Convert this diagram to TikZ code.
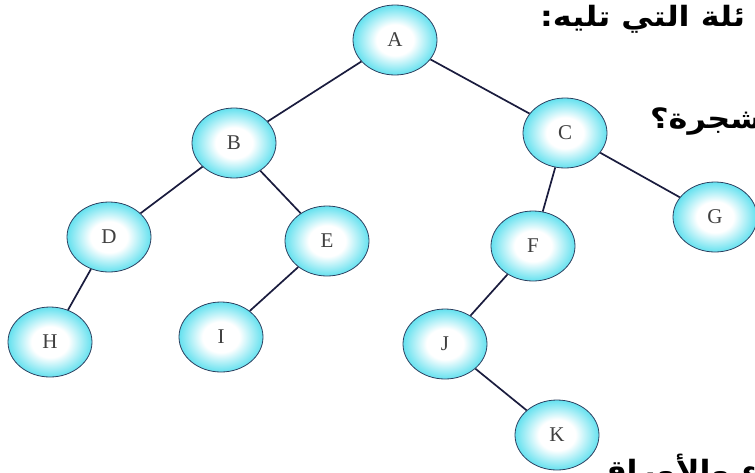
\documentclass[tikz,border=0pt]{standalone}
\usepackage{fontspec}
\setmainfont{Liberation Serif}
\newfontfamily\arabicfont[Script=Arabic, FakeStretch=1.14]{DejaVu Sans}
\TeXXeTstate=1
\usetikzlibrary{positioning,shapes.geometric}

\definecolor{ringcyan}{RGB}{34,212,232}
\definecolor{edgenavy}{RGB}{26,28,62}
\definecolor{rimdark}{RGB}{45,64,96}

% white core fading into a cyan rim
\pgfdeclareradialshading{nodeglow}{\pgfpoint{0bp}{0bp}}{%
  color(0bp)=(white); color(11bp)=(white); color(22bp)=(ringcyan!55!white);
  color(31bp)=(ringcyan); color(50bp)=(ringcyan)}

\begin{document}
\begin{tikzpicture}[
  x=1pt, y=1pt,
  on grid,
  vert/.style={ellipse, draw=rimdark, line width=0.8pt, shading=nodeglow,
    minimum width=84pt, minimum height=70pt, inner sep=0pt,
    font=\fontsize{21}{24}\selectfont, text=black!75},
  link/.style={draw=edgenavy, line width=1.7pt},
  ask/.style={font=\arabicfont\bfseries\fontsize{28}{32}\selectfont, inner sep=0pt}
]
\useasboundingbox (0,0) rectangle (755,-472);

\node[vert] (A) at (395,-40) {A};
\node[vert, below left=103pt and 161pt of A] (B) {B};
\node[vert, below right=93pt and 170pt of A] (C) {C};
\node[vert, below left=94pt and 125pt of B] (D) {D};
\node[vert, below right=98pt and 93pt of B] (E) {E};
\node[vert, below left=113pt and 32pt of C] (F) {F};
\node[vert, below right=84pt and 150pt of C] (G) {G};
\node[vert, below left=105pt and 59pt of D] (H) {H};
\node[vert, below left=96pt and 106pt of E] (I) {I};
\node[vert, below left=98pt and 88pt of F] (J) {J};
\node[vert, below right=91pt and 112pt of J] (K) {K};

\draw[link] (A) -- (B);
\draw[link] (A) -- (C);
\draw[link] (B) -- (D);
\draw[link] (B) -- (E);
\draw[link] (C) -- (F);
\draw[link] (C) -- (G);
\draw[link] (D) -- (H);
\draw[link] (E) -- (I);
\draw[link] (F) -- (J);
\draw[link] (J) -- (K);

% question text running off the page edges
\node[ask, anchor=base west] (intro) at (540,-26) {\beginR ئلة التي تليه:\endR};
\node[ask, anchor=base west] (question) at (650,-128) {\beginR لشجرة؟\endR};
\node[ask, anchor=base west] (tail) at (598,-480) {\beginR الأبناء والأوراق\endR};
\end{tikzpicture}
\end{document}
